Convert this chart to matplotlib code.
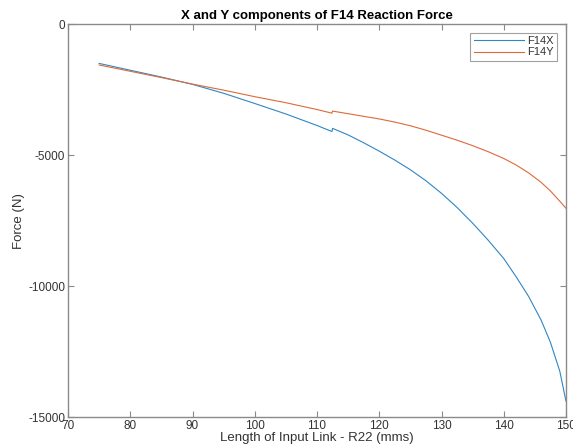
import numpy as np
from matplotlib import pyplot as plt

plt.rcParams['font.family'] = ['Liberation Sans', 'DejaVu Sans']
plt.rcParams['axes.unicode_minus'] = False

# values (two branches with a small jump near 112.5)
r22 = [75, 80, 85, 90, 95, 100, 105, 110, 112.4,
       112.5, 115, 117.5, 120, 122.5, 125, 127.5, 130, 132.5, 135, 137.5,
       140, 142, 144, 146, 147.5, 149, 150]
f14x = [-1500, -1760, -2020, -2300, -2640, -3030, -3430, -3870, -4100,
        -3980, -4230, -4530, -4850, -5190, -5560, -5980, -6460, -7000, -7600, -8250,
        -8950, -9650, -10400, -11300, -12150, -13250, -14400]
f14y = [-1560, -1800, -2040, -2290, -2520, -2770, -3000, -3260, -3400,
        -3320, -3420, -3520, -3620, -3740, -3880, -4050, -4240, -4430, -4640, -4870,
        -5130, -5380, -5680, -6040, -6370, -6760, -7030]

fig = plt.figure(figsize=(5.73, 4.47), dpi=100)
ax = fig.add_axes([0.1187, 0.0671, 0.8691, 0.8789])

ax.plot(r22, f14x, color='#2f86c5', lw=0.8, label='F14X')
ax.plot(r22, f14y, color='#dc6a3a', lw=0.8, label='F14Y')

ax.set_xlim(70, 150)
ax.set_ylim(-15000, 0)
ax.set_xticks(np.arange(70, 151, 10))
ax.set_yticks([-15000, -10000, -5000, 0])

axcol = '#8a8a8a'
for s in ax.spines.values():
    s.set_color(axcol)
    s.set_linewidth(1.0)
ax.tick_params(direction='in', top=True, right=True, length=4, width=0.8,
               color=axcol, labelsize=8.5, labelcolor='#333333', pad=2)

ax.set_title('X and Y components of F14 Reaction Force', fontsize=9.5,
             fontweight='bold', pad=4)
ax.set_xlabel('Length of Input Link - R22 (mms)', fontsize=9.5, labelpad=0, color='#333333')
ax.set_ylabel('Force (N)', fontsize=9.5, labelpad=2, color='#333333')

leg = ax.legend(loc='upper right', fontsize=8, frameon=True, fancybox=False,
                handlelength=4.5, handletextpad=0.3, borderpad=0.3,
                labelspacing=0.1, borderaxespad=0.8)
leg.get_frame().set_edgecolor(axcol)
leg.get_frame().set_linewidth(0.8)
for t in leg.get_texts():
    t.set_color('#333333')

plt.savefig('out.png', dpi=100)
